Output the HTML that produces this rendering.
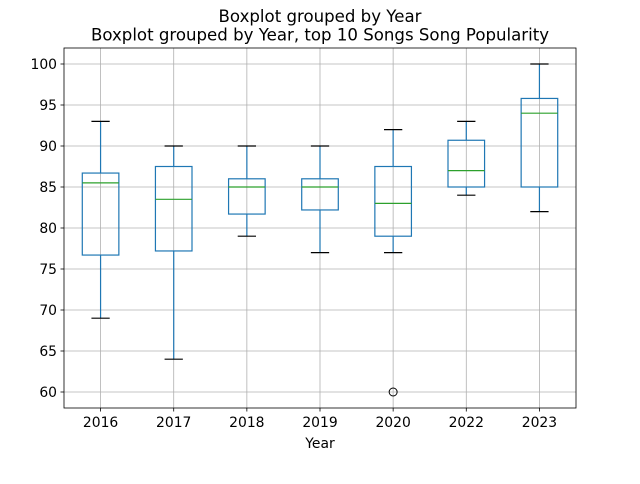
<!DOCTYPE html>
<html><head><meta charset="utf-8"><style>
body{margin:0;background:#fff;font-family:"DejaVu Sans","Liberation Sans",sans-serif;}
</style></head><body>
<svg id="chart" width="640" height="480" viewBox="0 0 640 480" xmlns="http://www.w3.org/2000/svg" font-family="DejaVu Sans, Liberation Sans, sans-serif">
<rect width="640" height="480" fill="#fff"/>
<text x="320" y="22" text-anchor="middle" font-size="16.6" fill="#000">Boxplot grouped by Year</text>
<text x="320" y="40.5" text-anchor="middle" font-size="16.6" fill="#000">Boxplot grouped by Year, top 10 Songs Song Popularity</text>
<g id="grid"></g>
<g id="boxes"></g>
<rect x="64" y="48" width="512" height="360" fill="none" stroke="#000" stroke-width="0.8"/>
<g id="ticks"></g>
<text x="320" y="448" text-anchor="middle" font-size="13.9">Year</text>
</svg>
<script>
const categories=["2016","2017","2018","2019","2020","2022","2023"];
const whiskerLow=[69,64,79,77,77,84,82];
const q1=[76.7,77.2,81.7,82.2,79,85,85];
const medians=[85.5,83.5,85,85,83,87,94];
const q3=[86.7,87.5,86,86,87.5,90.7,95.8];
const whiskerHigh=[93,90,90,90,92,93,100];
const outliers=[[],[],[],[],[60],[],[]];
const yTicks=[60,65,70,75,80,85,90,95,100];
const NS="http://www.w3.org/2000/svg";
const L=64,R=576,T=48,B=408;
function y(v){return 392-(v-60)*8.2;}
function x(i){return L+(i+0.5)*(R-L)/categories.length;}
function mk(tag,attrs,parent){const e=document.createElementNS(NS,tag);for(const k in attrs)e.setAttribute(k,attrs[k]);parent.appendChild(e);return e;}
const grid=document.getElementById('grid'),boxes=document.getElementById('boxes'),ticks=document.getElementById('ticks');
yTicks.forEach(v=>{
 const g=mk('line',{x1:L,x2:R,y1:y(v),y2:y(v),stroke:'#b0b0b0','stroke-width':0.8},grid);
 
 
 mk('line',{x1:L-3.5,x2:L,y1:y(v),y2:y(v),stroke:'#000','stroke-width':0.8},ticks);
 const t=mk('text',{x:L-7,y:y(v)+5,'text-anchor':'end','font-size':13.9},ticks);
 t.textContent=v;
 
 
});
categories.forEach((c,i)=>{
 const cx=x(i),hw=(R-L)/categories.length*0.25,cw=hw/2;
 const g=mk('line',{x1:cx,x2:cx,y1:T,y2:B,stroke:'#b0b0b0','stroke-width':0.8},grid);
 
 
 mk('line',{x1:cx,x2:cx,y1:B,y2:B+3.5,stroke:'#000','stroke-width':0.8},ticks);
 const t=mk('text',{x:cx,y:B+19,'text-anchor':'middle','font-size':13.9},ticks);
 t.textContent=c;
 
 
 const grp=mk('g',{},boxes);
 
 
 const s={stroke:'#1f77b4','stroke-width':1.2,fill:'none'};
 mk('rect',Object.assign({x:cx-hw,y:y(q3[i]),width:2*hw,height:y(q1[i])-y(q3[i])},s),grp);
 mk('line',Object.assign({x1:cx,x2:cx,y1:y(q1[i]),y2:y(whiskerLow[i])},s),grp);
 mk('line',Object.assign({x1:cx,x2:cx,y1:y(q3[i]),y2:y(whiskerHigh[i])},s),grp);
 mk('line',{x1:cx-cw,x2:cx+cw,y1:y(whiskerLow[i]),y2:y(whiskerLow[i]),stroke:'#000','stroke-width':1.2},grp);
 mk('line',{x1:cx-cw,x2:cx+cw,y1:y(whiskerHigh[i]),y2:y(whiskerHigh[i]),stroke:'#000','stroke-width':1.2},grp);
 mk('line',{x1:cx-hw,x2:cx+hw,y1:y(medians[i]),y2:y(medians[i]),stroke:'#2ca02c','stroke-width':1.2},grp);
 outliers[i].forEach(o=>{
  const p=mk('circle',{cx:cx,cy:y(o),r:4,fill:'none',stroke:'#000','stroke-width':1},grp);
  
  
 });
});
</script>
</body></html>
